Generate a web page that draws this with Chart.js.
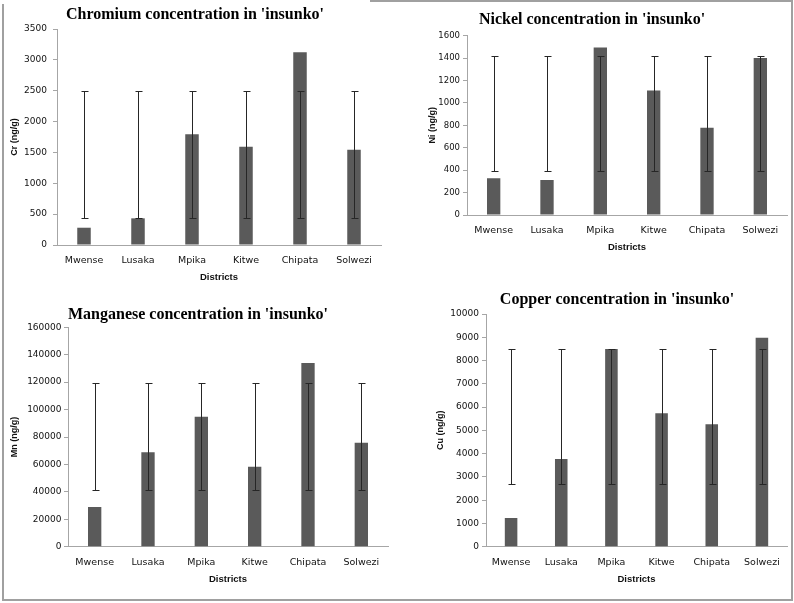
<!DOCTYPE html>
<html>
<head>
<meta charset="utf-8">
<title>Metal concentrations in 'insunko'</title>
<script src="https://cdn.jsdelivr.net/npm/chart.js@4.4.1/dist/chart.umd.min.js"></script>
<style>
    html, body { margin: 0; padding: 0; background: #fff; }
    #page { position: relative; width: 794px; height: 603px; overflow: hidden; background: #fff; }
    #page canvas { position: absolute; }
    .edge { position: absolute; background: #a0a0a0; }
</style>
</head>
<body>
<div id="page">
    <canvas id="crChart" width="390" height="290" style="left:0px;top:0px"></canvas>
    <canvas id="niChart" width="397" height="290" style="left:397px;top:0px"></canvas>
    <canvas id="mnChart" width="395" height="313" style="left:0px;top:290px"></canvas>
    <canvas id="cuChart" width="394" height="313" style="left:400px;top:290px"></canvas>
    <div class="edge" style="left:2px;top:4px;width:2px;height:597px"></div>
    <div class="edge" style="left:2px;top:599px;width:791px;height:2px"></div>
    <div class="edge" style="left:791px;top:0px;width:2px;height:601px"></div>
    <div class="edge" style="left:370px;top:0px;width:423px;height:2px"></div>
</div>
<script>
// ========================================
// DATA (ng/g)
// ========================================
const districts = ['Mwense', 'Lusaka', 'Mpika', 'Kitwe', 'Chipata', 'Solwezi'];

const crValues = [280, 432, 1793, 1590, 3122, 1544];
const crErrLow = [430, 430, 430, 430, 430, 430];
const crErrHigh = [2500, 2500, 2500, 2500, 2500, 2500];

const niValues = [327, 312, 1495, 1110, 779, 1400];
const niErrLow = [395, 395, 395, 395, 395, 395];
const niErrHigh = [1420, 1420, 1420, 1420, 1420, 1420];

const mnValues = [28900, 68800, 94800, 58300, 133900, 75800];
const mnErrLow = [41700, 41700, 41700, 41700, 41700, 41700];
const mnErrHigh = [119300, 119300, 119300, 119300, 119300, 119300];

const cuValues = [1230, 3770, 8500, 5730, 5260, 8980];
const cuErrLow = [2700, 2700, 2700, 2700, 2700, 2700];
const cuErrHigh = [8500, 8500, 8500, 8500, 8500, 8500];

const BAR_COLOR = '#5a5a5a';
const AXIS_COLOR = '#a6a6a6';

Chart.defaults.devicePixelRatio = 1;

// ========================================
// ERROR BAR PLUGIN - uses the y scale to place whiskers
// ========================================
const errorBars = {
    id: 'errorBars',
    afterDatasetsDraw: function(chart, args, opts) {
        const ctx = chart.ctx;
        const yScale = chart.scales.y;
        const meta = chart.getDatasetMeta(0);
        ctx.save();
        ctx.strokeStyle = '#262626';
        ctx.lineWidth = 1;
        meta.data.forEach(function(bar, i) {
            const x = Math.round(bar.x) + 0.5;
            const yLo = Math.round(yScale.getPixelForValue(opts.low[i])) + 0.5;
            const yHi = Math.round(yScale.getPixelForValue(opts.high[i])) + 0.5;
            ctx.beginPath();
            ctx.moveTo(x, yLo);
            ctx.lineTo(x, yHi);
            ctx.moveTo(x - 3, yLo);
            ctx.lineTo(x + 4, yLo);
            ctx.moveTo(x - 3, yHi);
            ctx.lineTo(x + 4, yHi);
            ctx.stroke();
        });
        ctx.restore();
    }
};

function makePanel(id, p) {
    const ctx = document.getElementById(id).getContext('2d');
    return new Chart(ctx, {
        type: 'bar',
        data: {
            labels: districts,
            datasets: [{
                data: p.values,
                backgroundColor: BAR_COLOR,
                borderWidth: 0,
                barPercentage: 0.25,
                categoryPercentage: 1
            }]
        },
        plugins: [errorBars],
        options: {
            responsive: false,
            animation: false,
            layout: { padding: p.padding },
            plugins: {
                legend: { display: false },
                tooltip: { enabled: false },
                title: {
                    display: true,
                    text: p.title,
                    color: '#000',
                    font: { family: 'Liberation Serif', weight: 'bold', size: 16 },
                    padding: p.titlePad
                },
                errorBars: { low: p.errLow, high: p.errHigh }
            },
            scales: {
                x: {
                    afterFit: function(scale) { scale.height = 40; },
                    grid: { display: false, drawTicks: false, tickLength: 0 },
                    border: { display: true, color: AXIS_COLOR },
                    ticks: {
                        padding: 9.8,
                        color: '#111',
                        maxRotation: 0,
                        font: { family: 'DejaVu Sans', size: 9.5 }
                    },
                    title: {
                        display: true,
                        text: 'Districts',
                        color: '#111',
                        font: { family: 'Liberation Sans', weight: 'bold', size: 9.5 },
                        padding: { top: 0, bottom: 1.8 }
                    }
                },
                y: {
                    min: 0,
                    max: p.max,
                    afterFit: function(scale) { scale.width = p.axisWidth; },
                    grid: { drawOnChartArea: false, drawTicks: true, tickLength: 4, color: AXIS_COLOR },
                    border: { display: true, color: AXIS_COLOR },
                    ticks: {
                        stepSize: p.step,
                        padding: p.tickPad,
                        color: '#111',
                        font: { family: 'DejaVu Sans', size: p.tickSize },
                        callback: function(value) { return String(value); }
                    },
                    title: {
                        display: true,
                        text: p.yTitle,
                        color: '#111',
                        font: { family: 'Liberation Sans', weight: 'bold', size: 9 },
                        padding: { top: p.yTitlePad, bottom: 0 }
                    }
                }
            }
        }
    });
}

// ========================================
// FOUR PANELS
// ========================================
makePanel('crChart', {
    title: "Chromium concentration in 'insunko'",
    yTitle: 'Cr (ng/g)',
    values: crValues, errLow: crErrLow, errHigh: crErrHigh,
    max: 3500, step: 500, tickSize: 9, tickPad: 6,
    axisWidth: 48, yTitlePad: 0.6,
    padding: { left: 9, right: 9, top: 0, bottom: 5 },
    titlePad: { top: 5.4, bottom: 4.4 }
});

makePanel('niChart', {
    title: "Nickel concentration in 'insunko'",
    yTitle: 'Ni (ng/g)',
    values: niValues, errLow: niErrLow, errHigh: niErrHigh,
    max: 1600, step: 200, tickSize: 8.5, tickPad: 3,
    axisWidth: 70, yTitlePad: 30.6,
    padding: { left: 0, right: 7, top: 0, bottom: 35 },
    titlePad: { top: 10.4, bottom: 6.1 }
});

makePanel('mnChart', {
    title: "Manganese concentration in 'insunko'",
    yTitle: 'Mn (ng/g)',
    values: mnValues, errLow: mnErrLow, errHigh: mnErrHigh,
    max: 160000, step: 20000, tickSize: 9, tickPad: 2.5,
    axisWidth: 60, yTitlePad: 1.6,
    padding: { left: 8, right: 7, top: 0, bottom: 16.3 },
    titlePad: { top: 15.4, bottom: 2.7 }
});

makePanel('cuChart', {
    title: "Copper concentration in 'insunko'",
    yTitle: 'Cu (ng/g)',
    values: cuValues, errLow: cuErrLow, errHigh: cuErrHigh,
    max: 10000, step: 1000, tickSize: 9, tickPad: 3,
    axisWidth: 39, yTitlePad: -12.3,
    padding: { left: 47, right: 7, top: 0, bottom: 16.3 },
    titlePad: { top: 0.4, bottom: 4.4 }
});
</script>
</body>
</html>
